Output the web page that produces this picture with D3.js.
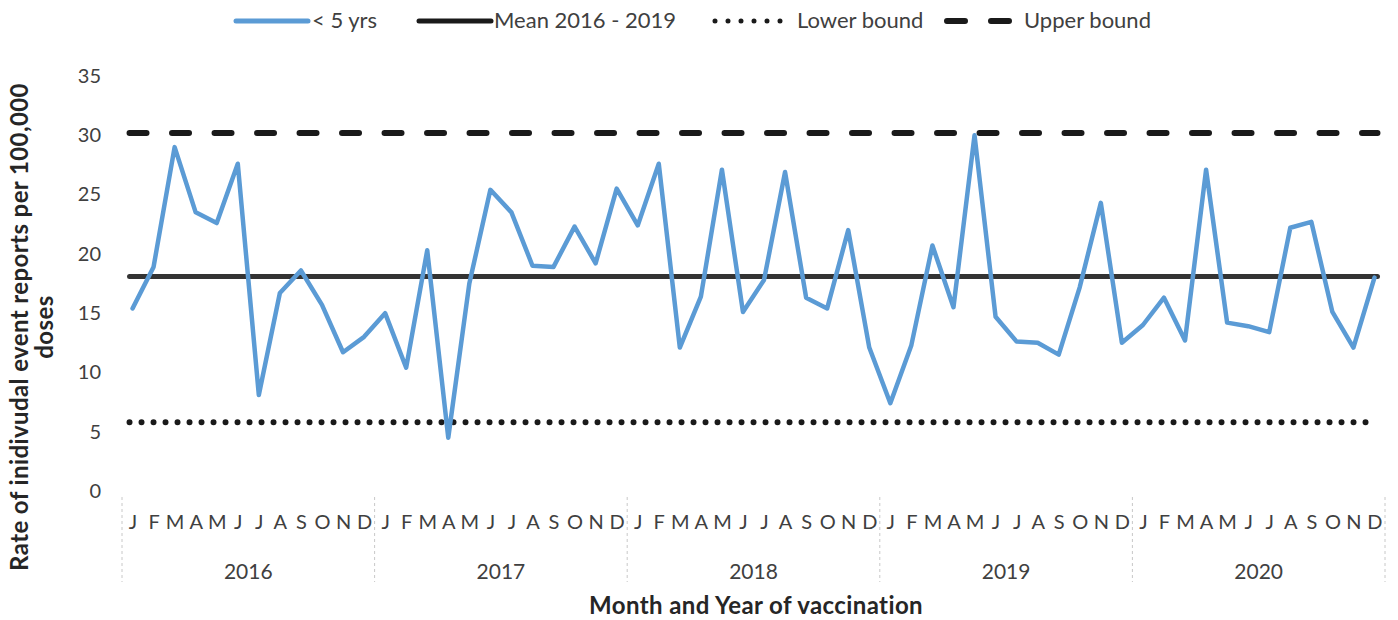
<!DOCTYPE html>
<html>
<head>
<meta charset="utf-8">
<script src="https://cdn.jsdelivr.net/npm/d3@7"></script>
<style>
  body { margin: 0; background: #fff; }
  svg { display: block; font-family: Lato, "Open Sans", sans-serif; }
</style>
</head>
<body>
<svg id="chart" width="1398" height="620"></svg>
<script>
const years = ["2016", "2017", "2018", "2019", "2020"];
const monthLetters = ["J", "F", "M", "A", "M", "J", "J", "A", "S", "O", "N", "D"];

// rate per 100,000 doses, < 5 yrs, Jan 2016 .. Dec 2020
const under5 = [
  15.4, 18.9, 29.0, 23.5, 22.6, 27.6, 8.1, 16.7, 18.6, 15.7, 11.7, 13.0,
  15.0, 10.4, 20.3, 4.5, 17.5, 25.4, 23.5, 19.0, 18.9, 22.3, 19.2, 25.5,
  22.4, 27.6, 12.1, 16.4, 27.1, 15.1, 17.8, 26.9, 16.3, 15.4, 22.0, 12.1,
  7.4, 12.3, 20.7, 15.5, 30.0, 14.7, 12.6, 12.5, 11.5, 17.2, 24.3, 12.5,
  14.0, 16.3, 12.7, 27.1, 14.2, 13.9, 13.4, 22.2, 22.7, 15.1, 12.1, 18.0
];
const meanValue = 18.1;
const lowerBound = 5.8;
const upperBound = 30.2;
const yTicks = [0, 5, 10, 15, 20, 25, 30, 35];

const svg = d3.select("#chart");

const months = d3.range(years.length * 12);
const x = d3.scalePoint().domain(months).range([122, 1385]).padding(0.5);
const y = d3.scaleLinear().domain([0, 35]).range([491, 76]);

// y axis (labels only)
const yAxis = svg.append("g")
  .attr("transform", "translate(122,0)")
  .call(d3.axisLeft(y).tickValues(yTicks).tickSize(0).tickPadding(21));
yAxis.select(".domain").remove();
yAxis.selectAll("text")
  .attr("font-size", 20)
  .attr("font-family", "Lato, sans-serif")
  .attr("fill", "#404040");

// month letters
const xAxis = svg.append("g")
  .attr("transform", "translate(0,515)")
  .call(d3.axisBottom(x).tickSize(0).tickPadding(0).tickFormat(i => monthLetters[i % 12]));
xAxis.select(".domain").remove();
xAxis.selectAll("text")
  .attr("font-size", 20)
  .attr("font-family", "Lato, sans-serif")
  .attr("fill", "#404040");

// year separators and labels
const step = x.step();
const yearEdges = d3.range(years.length + 1).map(k => x(0) - step / 2 + k * 12 * step);
svg.append("g").selectAll("line")
  .data(yearEdges)
  .join("line")
  .attr("x1", d => d).attr("x2", d => d)
  .attr("y1", 497).attr("y2", 582)
  .attr("stroke", "#c8c8c8")
  .attr("stroke-width", 1)
  .attr("stroke-dasharray", "3 3");

svg.append("g").selectAll("text")
  .data(years)
  .join("text")
  .attr("x", (d, k) => (x(k * 12) + x(k * 12 + 11)) / 2)
  .attr("y", 579)
  .attr("text-anchor", "middle")
  .attr("font-size", 21)
  .attr("fill", "#404040")
  .text(d => d);

// axis titles
svg.append("text")
  .attr("x", 756).attr("y", 614)
  .attr("text-anchor", "middle")
  .attr("font-size", 24).attr("font-weight", "bold")
  .attr("letter-spacing", 0.4)
  .attr("fill", "#262626")
  .text("Month and Year of vaccination");

const yTitle = svg.append("text")
  .attr("transform", "translate(28,327) rotate(-90)")
  .attr("text-anchor", "middle")
  .attr("font-size", 24).attr("font-weight", "bold")
  .attr("letter-spacing", 0.4)
  .attr("fill", "#262626");
yTitle.append("tspan").attr("x", 0).attr("dy", 0).text("Rate of inidivudal event reports per 100,000");
yTitle.append("tspan").attr("x", 0).attr("dy", 25).text("doses");

// reference lines
const x0 = x(0) - 3;
const x1 = x(months.length - 1) + 3;

svg.append("line")
  .attr("x1", x0).attr("x2", x1)
  .attr("y1", y(upperBound)).attr("y2", y(upperBound))
  .attr("stroke", "#1a1a1a").attr("stroke-width", 6)
  .attr("stroke-linecap", "round")
  .attr("stroke-dasharray", "17 25.5");

svg.append("line")
  .attr("x1", x0).attr("x2", x1)
  .attr("y1", y(lowerBound)).attr("y2", y(lowerBound))
  .attr("stroke", "#1a1a1a").attr("stroke-width", 6)
  .attr("stroke-linecap", "round")
  .attr("stroke-dasharray", "0 12");

svg.append("line")
  .attr("x1", x0).attr("x2", x1)
  .attr("y1", y(meanValue)).attr("y2", y(meanValue))
  .attr("stroke", "#333333").attr("stroke-width", 5)
  .attr("stroke-linecap", "round");

// < 5 yrs series
const line = d3.line()
  .x((d, i) => x(i))
  .y(d => y(d));

svg.append("path")
  .datum(under5)
  .attr("fill", "none")
  .attr("stroke", "#5b9bd5")
  .attr("stroke-width", 4.5)
  .attr("stroke-linejoin", "round")
  .attr("stroke-linecap", "round")
  .attr("d", line);

// legend
const legendItems = [
  { label: "< 5 yrs", x1: 236, x2: 308, tx: 312, color: "#5b9bd5", width: 5, dash: null },
  { label: "Mean 2016 - 2019", x1: 419, x2: 491, tx: 494, color: "#1a1a1a", width: 5, dash: null },
  { label: "Lower bound", x1: 715, x2: 782, tx: 797, color: "#1a1a1a", width: 5, dash: "0 13" },
  { label: "Upper bound", x1: 947, x2: 1012, tx: 1024, color: "#1a1a1a", width: 6, dash: "18 26" }
];
const legend = svg.append("g");
legend.selectAll("line")
  .data(legendItems)
  .join("line")
  .attr("x1", d => d.x1).attr("x2", d => d.x2)
  .attr("y1", 21).attr("y2", 21)
  .attr("stroke", d => d.color)
  .attr("stroke-width", d => d.width)
  .attr("stroke-linecap", "round")
  .attr("stroke-dasharray", d => d.dash);
legend.selectAll("text")
  .data(legendItems)
  .join("text")
  .attr("x", d => d.tx).attr("y", 28)
  .attr("font-size", 22)
  .attr("fill", "#404040")
  .text(d => d.label);
</script>
</body>
</html>
